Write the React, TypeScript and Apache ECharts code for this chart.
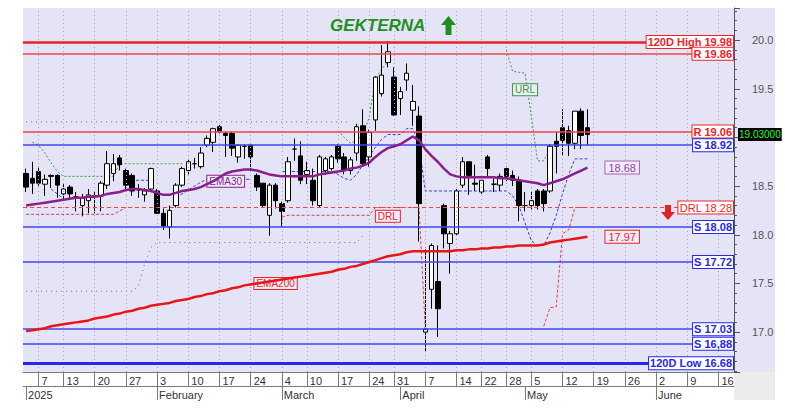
import React, { useEffect, useRef } from 'react';
import * as echarts from 'echarts';

// ---------- data ----------
const HOLIDAYS = ['2025-01-01', '2025-01-06', '2025-03-03', '2025-03-25', '2025-04-18', '2025-04-21', '2025-05-01'];
const FIRST_DAY = '2025-01-02';
const LAST_DAY = '2025-06-18';
const MONTH_LABELS = ['2025', 'February', 'March', 'April', 'May', 'June'];

// [open, close, low, high]
const ohlc: number[][] = [
  [18.63, 18.49, 18.44, 18.68], [18.58, 18.53, 18.42, 18.75], [18.65, 18.53, 18.50, 18.70], [18.52, 18.57, 18.40, 18.62],
  [18.61, 18.60, 18.48, 18.62], [18.61, 18.51, 18.38, 18.62], [18.42, 18.47, 18.35, 18.52], [18.49, 18.42, 18.36, 18.51],
  [18.39, 18.38, 18.24, 18.44], [18.30, 18.38, 18.19, 18.42], [18.35, 18.41, 18.22, 18.47], [18.40, 18.40, 18.22, 18.45],
  [18.40, 18.53, 18.24, 18.55], [18.51, 18.73, 18.47, 18.86], [18.63, 18.73, 18.55, 18.83], [18.79, 18.72, 18.66, 18.82],
  [18.66, 18.51, 18.45, 18.68], [18.61, 18.45, 18.40, 18.63], [18.47, 18.46, 18.38, 18.52], [18.41, 18.45, 18.34, 18.48],
  [18.47, 18.68, 18.45, 18.69], [18.45, 18.22, 18.22, 18.47], [18.22, 18.09, 18.05, 18.27], [18.08, 18.25, 17.96, 18.30],
  [18.30, 18.51, 18.28, 18.53], [18.51, 18.68, 18.49, 18.70], [18.66, 18.75, 18.62, 18.78], [18.73, 18.73, 18.68, 18.79],
  [18.70, 18.84, 18.68, 18.90], [18.92, 18.99, 18.90, 19.02], [18.95, 19.09, 18.85, 19.10], [19.11, 19.06, 19.04, 19.13],
  [19.04, 19.02, 18.80, 19.06], [19.04, 18.89, 18.81, 19.06], [18.80, 18.92, 18.74, 18.93], [18.91, 18.91, 18.78, 18.93],
  [18.92, 18.80, 18.65, 18.93], [18.61, 18.49, 18.45, 18.63], [18.53, 18.30, 18.28, 18.53], [18.20, 18.51, 17.99, 18.53],
  [18.51, 18.35, 18.27, 18.53], [18.32, 18.24, 18.08, 18.34], [18.35, 18.75, 18.33, 18.80], [18.88, 18.88, 18.76, 18.99],
  [18.81, 18.56, 18.52, 18.96], [18.62, 18.66, 18.52, 18.75], [18.56, 18.35, 18.30, 18.68], [18.30, 18.80, 18.28, 18.82],
  [18.66, 18.78, 18.62, 18.80], [18.68, 18.80, 18.66, 18.82], [18.91, 18.78, 18.74, 18.93], [18.80, 18.66, 18.62, 18.84],
  [18.66, 18.77, 18.62, 18.80], [18.84, 19.11, 18.76, 19.14], [19.12, 18.73, 18.71, 19.29], [18.80, 19.05, 18.70, 19.08],
  [19.18, 19.62, 19.07, 19.63], [19.45, 19.64, 19.42, 19.95], [19.77, 19.88, 19.72, 19.99], [19.62, 19.23, 19.22, 19.72],
  [19.40, 19.47, 19.23, 19.52], [19.59, 19.66, 19.48, 19.76], [19.28, 19.37, 19.12, 19.54], [19.22, 18.32, 17.93, 19.32],
  [17.00, 17.03, 16.80, 17.85], [17.44, 17.89, 17.24, 17.91], [17.52, 17.24, 16.95, 17.89], [18.30, 18.01, 17.86, 18.32],
  [17.91, 18.01, 17.60, 18.04], [18.01, 18.45, 17.99, 18.47], [18.51, 18.75, 18.48, 18.80], [18.75, 18.61, 18.41, 18.75],
  [18.53, 18.52, 18.45, 18.72], [18.44, 18.56, 18.42, 18.56], [18.80, 18.68, 18.60, 18.82], [18.52, 18.52, 18.44, 18.58],
  [18.51, 18.60, 18.45, 18.63], [18.68, 18.60, 18.55, 18.70], [18.61, 18.56, 18.50, 18.66], [18.56, 18.30, 18.14, 18.60],
  [18.30, 18.30, 18.24, 18.44], [18.30, 18.35, 18.26, 18.45], [18.45, 18.30, 18.26, 18.47], [18.45, 18.32, 18.24, 18.47],
  [18.45, 18.91, 18.43, 18.93], [18.96, 18.91, 18.63, 19.06], [19.10, 18.97, 18.81, 19.29], [19.07, 18.94, 18.81, 19.12],
  [18.94, 19.27, 18.88, 19.27], [19.27, 19.02, 18.88, 19.30], [19.10, 19.03, 18.92, 19.29],
];

const ema30 = [
  18.30, 18.31, 18.32, 18.33, 18.34, 18.35, 18.36, 18.37, 18.38, 18.38, 18.39, 18.39, 18.40, 18.42, 18.43, 18.44,
  18.46, 18.47, 18.47, 18.46, 18.45, 18.43, 18.41, 18.41, 18.43, 18.45, 18.46, 18.47, 18.49, 18.52, 18.55, 18.59,
  18.63, 18.65, 18.66, 18.67, 18.67, 18.66, 18.64, 18.62, 18.61, 18.60, 18.60, 18.60, 18.60, 18.60, 18.60, 18.62,
  18.63, 18.64, 18.65, 18.66, 18.68, 18.69, 18.71, 18.74, 18.80, 18.85, 18.89, 18.91, 18.93, 18.97, 19.01, 18.97,
  18.88, 18.81, 18.75, 18.68, 18.62, 18.60, 18.59, 18.59, 18.59, 18.59, 18.59, 18.59, 18.58, 18.58, 18.57, 18.56,
  18.55, 18.54, 18.53, 18.51, 18.53, 18.55, 18.57, 18.60, 18.63, 18.66, 18.69,
];

const ema200 = [
  17.01, 17.02, 17.03, 17.04, 17.06, 17.07, 17.08, 17.09, 17.10, 17.11, 17.12, 17.14, 17.15, 17.16, 17.18, 17.19,
  17.21, 17.22, 17.24, 17.25, 17.27, 17.28, 17.29, 17.30, 17.32, 17.33, 17.34, 17.36, 17.37, 17.39, 17.40, 17.42,
  17.43, 17.45, 17.46, 17.48, 17.49, 17.50, 17.51, 17.52, 17.53, 17.54, 17.55, 17.56, 17.57, 17.58, 17.59, 17.60,
  17.61, 17.62, 17.64, 17.65, 17.67, 17.68, 17.70, 17.72, 17.74, 17.76, 17.78, 17.79, 17.80, 17.82, 17.83, 17.83,
  17.83, 17.83, 17.83, 17.83, 17.83, 17.84, 17.84, 17.85, 17.85, 17.86, 17.86, 17.87, 17.87, 17.88, 17.88, 17.89,
  17.89, 17.89, 17.89, 17.90, 17.92, 17.93, 17.94, 17.95, 17.96, 17.97, 17.98,
];

// trailing indicator lines as [dayIndex, price] vertices
const urlSegments: number[][][] = [
  [[1, 18.95], [2, 18.92], [3, 18.84], [4, 18.74], [5, 18.65], [6, 18.60], [14, 18.60], [15, 18.73], [25, 18.73]],
  [[50, 19.07], [51, 19.00], [52, 18.94], [53, 18.97], [54, 19.03], [55, 19.20], [56, 19.60], [57, 19.70], [58, 19.78]],
  [[77, 19.90], [78, 19.68], [80, 19.66], [81, 19.22], [82, 18.76], [83, 18.76], [84, 18.88], [85, 18.94]],
];
const drlSegments: number[][][] = [
  [[0, 18.21], [14, 18.21], [16, 18.28]],
  [[41, 18.18], [42, 18.20], [55, 18.20], [56, 18.28], [63, 18.28], [64, 17.03]],
  [[83, 17.06], [84, 17.25], [85, 17.26], [86, 18.01], [87, 18.05], [88, 18.28], [90, 18.28]],
];
const stopSegments: number[][][] = [
  [[4, 18.47], [5, 18.42], [6, 18.37]],
  [[16, 18.56], [20, 18.56]],
  [[24, 18.39], [25, 18.42], [26, 18.46], [27, 18.50], [28, 18.54], [29, 18.57], [36, 18.57]],
  [[41, 18.65], [49, 18.65], [50, 18.62], [51, 18.58], [52, 18.56], [53, 18.62], [54, 18.72], [55, 18.80], [56, 18.90],
   [57, 18.98], [58, 19.03], [60, 19.03], [61, 19.09], [62, 19.09], [63, 18.92], [64, 18.45], [77, 18.45], [78, 18.40],
   [79, 18.30], [80, 18.12], [81, 17.94], [82, 17.89], [83, 17.89], [84, 18.02], [85, 18.20], [86, 18.42], [87, 18.62],
   [88, 18.78], [90, 18.78]],
];
const greySegments: number[][][] = [
  [[0, 19.16], [52, 19.16]],
  [[0, 17.42], [17, 17.42], [18, 17.47], [19, 17.70], [20, 17.87], [21, 17.92], [53, 17.92], [54, 17.99]],
];

const resistanceLevels = [19.98, 19.86, 19.06];
const resistanceLabels = ['120D High 19.98', 'R 19.86', 'R 19.06'];
const supportLevels = [18.92, 18.08, 17.72, 17.03, 16.88, 16.68];
const supportLabels = ['S 18.92', 'S 18.08', 'S 17.72', 'S 17.03', 'S 16,88', '120D Low 16.68'];
const drlLevel = 18.28;
const drlLevelLabel = 'DRL 18.28';
const lastPrice = 19.03;
const lastPriceLabel = '19.03000';
const ema30LastLabel = '18.68';
const ema200LastLabel = '17.97';
const titleText = 'GEKTERNA';

// text tags placed in data space: [dayIndex, price, text]
const tagEMA30: [number, number, string] = [31.5, 18.55, 'EMA30'];
const tagEMA200: [number, number, string] = [40, 17.50, 'EMA200'];
const tagURL: [number, number, string] = [80, 19.49, 'URL'];
const tagDRL: [number, number, string] = [58, 18.19, 'DRL'];

// ---------- helpers ----------
function buildDays(): string[] {
  const out: string[] = [];
  const d = new Date(FIRST_DAY + 'T00:00:00Z');
  const end = new Date(LAST_DAY + 'T00:00:00Z').getTime();
  while (d.getTime() <= end) {
    const wd = d.getUTCDay();
    const s = d.toISOString().slice(0, 10);
    if (wd !== 0 && wd !== 6 && !HOLIDAYS.includes(s)) out.push(s);
    d.setUTCDate(d.getUTCDate() + 1);
  }
  return out;
}

const FONT = '"Liberation Sans", Arial, sans-serif';
const RED = '#f02228';
const BLUE = '#2626ee';
const LINE_RED = '#f24448';
const LINE_BLUE = '#4444f2';
const PURPLE = '#8a1f8a';
const GREEN = '#1f8f1f';
const BG = '#e4e4f6';

function buildOption() {
  const days = buildDays();
  const weekStart = new Set<number>();
  const monthStart = new Map<number, string>();
  let m = 0;
  days.forEach((s, i) => {
    if (i === 0) {
      monthStart.set(0, MONTH_LABELS[m++]);
      return;
    }
    const prev = new Date(days[i - 1] + 'T00:00:00Z');
    const cur = new Date(s + 'T00:00:00Z');
    if (cur.getUTCDay() < prev.getUTCDay() || cur.getTime() - prev.getTime() >= 7 * 86400000) weekStart.add(i);
    if (cur.getUTCMonth() !== prev.getUTCMonth()) monthStart.set(i, MONTH_LABELS[m++]);
  });

  const seg = (data: number[][], color: string, dash: any, z: number) => ({
    type: 'line',
    data,
    showSymbol: false,
    symbol: 'none',
    silent: true,
    z,
    lineStyle: { color, width: 1, type: dash },
  });

  const tag = (t: [number, number, string], color: string) => ({
    coord: [t[0], t[1]],
    symbol: 'rect',
    symbolSize: 1,
    itemStyle: { color: 'rgba(0,0,0,0)' },
    label: {
      show: true,
      position: 'inside',
      formatter: t[2],
      color,
      backgroundColor: '#ececfa',
      borderColor: color,
      borderWidth: 1,
      padding: [1, 2, 0, 2],
      fontSize: 10,
      fontFamily: FONT,
    },
  });

  const levelLine = (
    v: number, text: string, color: string, lineColor: string, width: number, dashed: boolean, bold: boolean,
  ) => ({
    yAxis: v,
    lineStyle: { color: lineColor, width, type: dashed ? [4, 3] : 'solid', opacity: 1 },
    label: {
      show: true,
      position: 'insideEnd',
      distance: 1,
      formatter: text,
      color,
      fontWeight: bold ? 'bold' : 'normal',
      fontSize: 11,
      fontFamily: FONT,
      backgroundColor: '#ffffff',
      borderColor: color,
      borderWidth: 1,
      padding: [1, 1, 0, 1],
    },
  });

  const levelData: any[] = [];
  resistanceLevels.forEach((v, i) =>
    levelData.push(levelLine(v, resistanceLabels[i], RED, i === 0 ? RED : LINE_RED, i === 0 ? 2.5 : 1.5, false, true)),
  );
  supportLevels.forEach((v, i) => {
    const last = i === supportLevels.length - 1;
    levelData.push(levelLine(v, supportLabels[i], BLUE, last ? BLUE : LINE_BLUE, last ? 3 : 1.5, false, true));
  });
  levelData.push(levelLine(drlLevel, drlLevelLabel, RED, LINE_RED, 1.2, true, false));

  const series: any[] = [
    {
      type: 'line',
      data: [],
      silent: true,
      z: 1,
      markLine: {
        silent: true,
        symbol: ['none', 'none'],
        animation: false,
        data: [...weekStart].map((i) => ({
          xAxis: days[i],
          lineStyle: { color: '#a4a4b8', width: 1, type: [1, 3] },
          label: { show: false },
        })),
      },
    },
    {
      type: 'line',
      data: [],
      silent: true,
      z: 2,
      markLine: { silent: true, symbol: ['none', 'none'], animation: false, data: levelData },
    },
    ...greySegments.map((s) => seg(s, '#6a6a74', [1, 4], 3)),
    ...urlSegments.map((s, i) => {
      const o: any = seg(s, '#3b9a3b', [2, 2], 3);
      if (i === 2) o.markPoint = { silent: true, animation: false, data: [tag(tagURL, '#3b9a3b')] };
      return o;
    }),
    ...drlSegments.map((s, i) => {
      const o: any = seg(s, '#e8393d', [3, 2], 3);
      if (i === 1) o.markPoint = { silent: true, animation: false, data: [tag(tagDRL, RED)] };
      return o;
    }),
    ...stopSegments.map((s) => seg(s, '#3a3af4', [3, 2], 3)),
    {
      type: 'candlestick',
      data: ohlc,
      barWidth: 5,
      z: 4,
      silent: true,
      itemStyle: {
        color: '#ffffff',
        color0: '#000000',
        borderColor: '#000000',
        borderColor0: '#000000',
        borderWidth: 1,
      },
    },
    {
      type: 'line',
      data: ema200,
      showSymbol: false,
      symbol: 'none',
      silent: true,
      z: 5,
      lineStyle: { color: '#e81616', width: 2.5 },
      endLabel: {
        show: true,
        formatter: ema200LastLabel,
        distance: 18,
        color: RED,
        backgroundColor: '#ececfa',
        borderColor: RED,
        borderWidth: 1,
        padding: [1, 3, 0, 3],
        fontSize: 11,
        fontFamily: FONT,
      },
      markPoint: { silent: true, animation: false, data: [tag(tagEMA200, RED)] },
    },
    {
      type: 'line',
      data: ema30,
      showSymbol: false,
      symbol: 'none',
      silent: true,
      z: 6,
      lineStyle: { color: PURPLE, width: 2.5 },
      endLabel: {
        show: true,
        formatter: ema30LastLabel,
        distance: 18,
        color: '#a040a0',
        backgroundColor: '#ececfa',
        borderColor: '#b060b0',
        borderWidth: 1,
        padding: [1, 3, 0, 3],
        fontSize: 11,
        fontFamily: FONT,
      },
      markPoint: { silent: true, animation: false, data: [tag(tagEMA30, PURPLE)] },
    },
    {
      type: 'line',
      data: [],
      silent: true,
      z: 20,
      markLine: {
        silent: true,
        symbol: ['none', 'none'],
        animation: false,
        data: [
          {
            yAxis: lastPrice,
            lineStyle: { width: 0, color: 'rgba(0,0,0,0)' },
            label: {
              show: true,
              position: 'end',
              distance: 4,
              formatter: lastPriceLabel,
              color: '#22ff22',
              backgroundColor: '#000',
              fontSize: 10,
              fontFamily: FONT,
              padding: [2, 1, 1, 1],
            },
          },
        ],
      },
    },
  ];

  return {
    animation: false,
    backgroundColor: '#ffffff',
    textStyle: { fontFamily: FONT },
    grid: { left: 23, right: 51, top: 8, bottom: 38, show: true, backgroundColor: BG, borderWidth: 0 },
    xAxis: [
      {
        type: 'category',
        data: days,
        boundaryGap: true,
        position: 'bottom',
        axisLine: { show: true, lineStyle: { color: '#7a7a7a' } },
        axisTick: {
          show: true,
          alignWithLabel: true,
          length: 14,
          interval: (i: number) => weekStart.has(i),
          lineStyle: { color: '#7a7a7a' },
        },
        axisLabel: {
          interval: (i: number) => weekStart.has(i),
          formatter: (v: string) => String(Number(v.slice(8))),
          align: 'left',
          margin: 3,
          padding: [0, 0, 0, 3],
          color: '#333',
          fontSize: 11,
          fontFamily: FONT,
        },
        splitLine: { show: false },
      },
      {
        type: 'category',
        data: days,
        boundaryGap: true,
        position: 'bottom',
        offset: 14,
        axisLine: { show: true, lineStyle: { color: '#7a7a7a' } },
        axisTick: {
          show: true,
          alignWithLabel: true,
          length: 14,
          interval: (i: number) => monthStart.has(i),
          lineStyle: { color: '#7a7a7a' },
        },
        axisLabel: {
          interval: (i: number) => monthStart.has(i),
          formatter: (_v: string, i: number) => monthStart.get(i) ?? '',
          align: 'left',
          margin: 3,
          padding: [0, 0, 0, 2],
          color: '#333',
          fontSize: 11,
          fontFamily: FONT,
        },
        splitLine: { show: false },
      },
    ],
    yAxis: {
      type: 'value',
      position: 'right',
      min: 16.59,
      max: 20.33,
      splitNumber: 8,
      axisLine: { show: true, lineStyle: { color: '#555' } },
      axisTick: { show: true, length: 6, lineStyle: { color: '#555' } },
      minorTick: { show: true, splitNumber: 5, length: 3, lineStyle: { color: '#555' } },
      splitLine: { show: false },
      axisLabel: {
        color: '#555',
        fontSize: 11,
        fontFamily: FONT,
        margin: 18,
        showMinLabel: false,
        showMaxLabel: false,
        formatter: (v: number) => v.toFixed(1),
      },
    },
    graphic: [
      { type: 'rect', z: -1, silent: true, shape: { x: 734, y: 8, width: 41, height: 364 }, style: { fill: BG } },
      { type: 'rect', z: -1, silent: true, shape: { x: 734, y: 372, width: 41, height: 28 }, style: { fill: '#ececec' } },
      {
        type: 'text',
        z: 10,
        x: 330,
        y: 17,
        style: { text: titleText, font: 'italic bold 17px "Liberation Sans", Arial, sans-serif', fill: GREEN },
      },
      {
        type: 'polygon',
        z: 10,
        shape: { points: [[448.5, 16], [456, 25], [451.5, 25], [451.5, 35], [445.5, 35], [445.5, 25], [441, 25]] },
        style: { fill: GREEN },
      },
      {
        type: 'polygon',
        z: 10,
        shape: { points: [[665, 205], [671, 205], [671, 212], [675, 212], [668, 220], [661, 212], [665, 212]] },
        style: { fill: '#e52020' },
      },
    ],
    series,
  };
}

export default function App() {
  const ref = useRef<HTMLDivElement>(null);
  useEffect(() => {
    if (!ref.current) return;
    const chart = echarts.init(ref.current, null, { renderer: 'svg' });
    chart.setOption(buildOption() as any);
    return () => chart.dispose();
  }, []);
  return (
    <div
      ref={ref}
      style={{ position: 'fixed', left: 0, top: 0, width: 785, height: 410, background: '#fff' }}
    />
  );
}
